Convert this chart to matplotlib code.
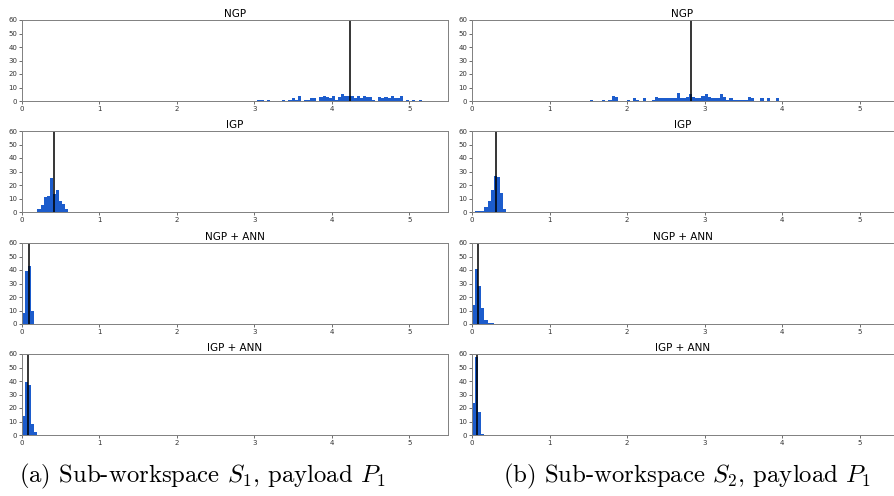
import numpy as np
import matplotlib
matplotlib.use("Agg")
import matplotlib.pyplot as plt

plt.rcParams['mathtext.fontset'] = 'cm'

# ---- data ----
BIN_W = 0.04
titles = ["NGP", "IGP", "NGP + ANN", "IGP + ANN"]
y_ticks = [0, 10, 20, 30, 40, 50, 60]
x_ticks = [0, 1, 2, 3, 4, 5]

# column (a): Sub-workspace S1
a_starts = [3.04, 0.20, 0.00, 0.00]
a_ngp = [1, 1, 0, 1, 0, 0, 0, 0, 1, 0, 1, 2, 1, 4, 0, 1, 1, 2, 2, 0,
         3, 4, 3, 2, 4, 1, 3, 5, 4, 4, 4, 2, 4, 2, 4, 3, 3, 1, 0, 3,
         2, 3, 2, 4, 2, 2, 4, 0, 1, 0, 1, 0, 1]
a_igp = [2, 5, 11, 12, 25, 13, 16, 8, 6, 2]
a_ngp_ann = [8, 39, 43, 10]
a_igp_ann = [14, 39, 37, 8, 2]
a_means = [4.23, 0.41, 0.09, 0.08]

# column (b): Sub-workspace S2
b_starts = [1.52, 0.04, 0.00, 0.00]
b_ngp = [1, 0, 0, 0, 1, 0, 1, 4, 3, 0, 0, 0, 1, 0, 2, 1, 0, 2, 0, 0,
         1, 3, 2, 2, 2, 2, 2, 2, 6, 2, 2, 3, 5, 3, 2, 2, 4, 5, 3, 2,
         2, 2, 5, 3, 1, 2, 1, 1, 1, 1, 1, 3, 2, 0, 0, 2, 0, 2, 0, 0, 2]
b_igp = [1, 1, 1, 4, 8, 16, 27, 26, 14, 2]
b_ngp_ann = [14, 41, 28, 12, 3, 1, 1]
b_igp_ann = [24, 58, 17, 1]
b_means = [2.82, 0.31, 0.082, 0.065]

captions = [r"(a) Sub-workspace $S_1$, payload $P_1$",
            r"(b) Sub-workspace $S_2$, payload $P_1$"]

columns = [
    (a_starts, [a_ngp, a_igp, a_ngp_ann, a_igp_ann], a_means),
    (b_starts, [b_ngp, b_igp, b_ngp_ann, b_igp_ann], b_means),
]

# ---- layout ----
W, H = 894, 496
fig = plt.figure(figsize=(W / 100, H / 100), dpi=100)
BAR_COLOR = "#1c5ccc"
SPINE = "#808080"

col_px = [(22, 448, 5.5), (472, 893, 5.43)]
row_px = [(20, 101), (131, 212), (243, 324), (354, 435)]

for c, (starts, counts_list, means) in enumerate(columns):
    x0, x1, xmax = col_px[c]
    for r in range(4):
        top, bot = row_px[r]
        ax = fig.add_axes([x0 / W, 1 - bot / H, (x1 - x0) / W, (bot - top) / H])
        counts = np.array(counts_list[r])
        lefts = starts[r] + BIN_W * np.arange(len(counts))
        ax.bar(lefts, counts, width=BIN_W, align='edge', color=BAR_COLOR,
               linewidth=0)
        ax.axvline(means[r], color='black', lw=1.3, alpha=0.85)
        ax.set_xlim(0, xmax)
        ax.set_ylim(0, 60)
        ax.set_xticks(x_ticks)
        ax.set_yticks(y_ticks)
        ax.tick_params(labelsize=5, length=2, width=0.5, pad=1.5,
                       colors='#333333')
        for s in ax.spines.values():
            s.set_color(SPINE)
            s.set_linewidth(0.7)
        if c == 1:
            ax.spines['right'].set_visible(False)
        ax.set_title(titles[r], fontsize=7.5, pad=2)

fig.text(202 / W, 1 - 476 / H, captions[0], ha='center', va='center',
         fontsize=17.8, family='cmr10')
fig.text(687 / W, 1 - 476 / H, captions[1], ha='center', va='center',
         fontsize=17.8, family='cmr10')

fig.savefig("out.png", dpi=100)
